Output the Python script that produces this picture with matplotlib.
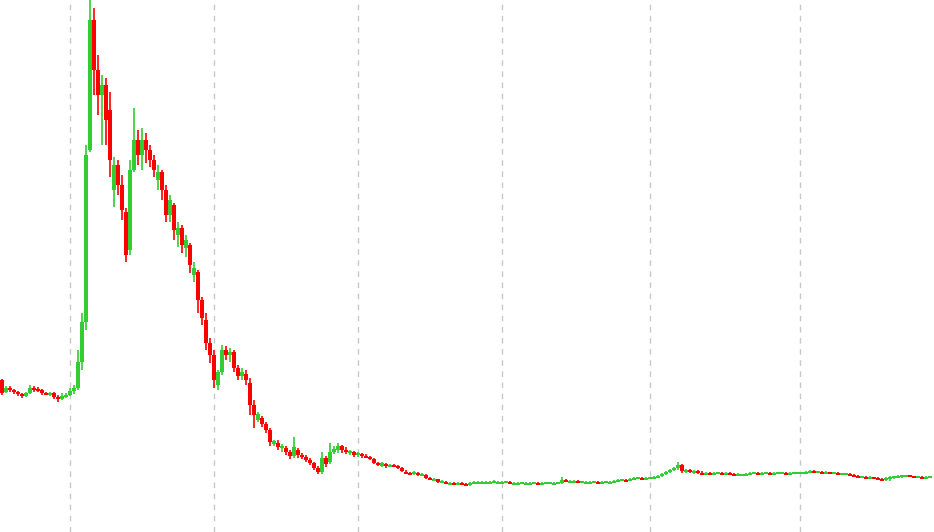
import matplotlib
matplotlib.use("Agg")
import matplotlib.pyplot as plt
import numpy as np

# Price data (arbitrary units), one candle per period
open_ = [152,140,144,142,140,138,136,139,144,143,142,139,137,139,135,133,136,137,141,144,
         170,210,382,512,462,437,447,422,342,367,347,320,282,362,392,377,392,382,372,352,
         360,342,317,327,297,304,284,287,257,260,232,212,189,177,147,160,182,177,180,164,
         156,158,149,127,112,114,108,102,88,89,84,84,80,76,82,77,75,72,69,64,
         60,74,70,80,82,86,82,79,80,77,78,76,75,73,69,66,68,66,67,66,
         64,60,59,58,59,57,57,54,52,53,50,50,48,49,48,49,48,47,49,49,
         49,49,49,50,49,49,50,50,48,48,49,48,48,49,49,48,49,49,48,49,
         49,52,50,50,51,50,49,49,50,50,49,50,49,49,51,52,52,51,53,54,
         54,53,54,54,55,56,58,60,62,64,67,61,62,60,61,59,58,59,58,59,
         59,58,59,58,57,57,57,58,59,59,58,59,59,58,59,59,59,58,59,59,
         59,59,60,61,60,60,59,60,59,59,58,58,58,57,56,55,55,54,55,54,
         53,52,54,55,55,56,56,57,56,55,55,54,55]
high_ = [153,146,146,143,141,139,140,147,146,145,143,140,140,140,137,139,139,144,147,182,
         219,387,552,524,477,457,454,440,375,372,357,324,372,424,402,404,399,387,377,367,
         362,347,337,329,310,307,297,289,270,262,235,219,194,182,162,187,186,184,182,167,
         164,162,154,132,120,116,110,104,92,92,88,86,82,95,84,79,77,74,70,66,
         80,76,89,86,89,87,85,82,81,80,79,78,76,74,70,70,69,68,68,67,
         65,62,60,61,60,59,58,55,54,53,52,51,50,50,50,50,49,50,51,51,
         51,51,51,52,51,51,51,51,50,50,50,50,50,50,50,50,50,50,50,50,
         55,53,52,52,52,51,51,51,51,51,51,51,51,52,53,53,53,54,55,55,
         55,55,55,56,57,59,61,63,65,70,68,63,63,62,62,61,60,60,60,60,
         60,60,60,59,59,58,59,60,60,60,60,60,60,60,60,60,60,60,60,60,
         60,61,62,62,61,61,61,60,60,60,59,59,59,58,57,56,56,56,55,55,
         54,55,56,56,57,57,57,57,56,56,56,56,56]
low_ = [137,139,140,138,136,134,135,138,140,140,137,137,136,133,130,132,134,136,138,142,
        162,202,380,437,417,387,387,355,325,337,312,270,277,360,367,362,369,365,355,342,
        332,310,310,292,285,279,275,259,250,219,207,182,169,144,142,157,172,170,160,152,
        152,147,117,104,110,105,99,86,86,82,80,77,73,74,74,73,70,67,62,58,
        58,65,68,78,79,79,78,77,75,75,74,74,72,68,66,65,64,65,65,63,
        60,58,57,57,56,56,53,52,51,49,49,48,48,48,47,47,46,46,48,49,
        49,49,49,49,49,49,49,48,48,47,48,48,48,48,48,48,48,48,48,48,
        48,50,49,49,49,49,49,49,49,49,49,49,49,49,50,51,51,51,52,53,
        53,52,53,53,54,55,57,59,61,62,59,59,59,58,58,57,57,57,57,58,
        58,58,57,56,56,56,57,58,58,58,58,58,58,58,58,58,58,58,58,58,
        58,58,59,59,59,59,59,58,58,58,57,57,56,55,54,54,54,54,54,53,
        52,51,51,53,54,54,55,55,55,55,54,54,54,54]
close_ = [139,144,142,140,138,136,139,144,143,142,139,138,139,135,133,136,137,141,144,170,
          210,377,512,462,437,447,412,372,367,347,322,277,362,392,377,392,382,372,362,360,
          342,317,332,302,304,287,292,267,264,232,214,189,177,152,160,182,177,180,164,156,
          160,152,127,117,118,108,102,90,91,85,86,80,76,85,77,75,72,69,64,60,
          74,68,80,83,86,82,80,81,77,79,76,75,73,69,67,69,66,67,66,64,
          61,59,58,60,57,58,54,53,53,50,51,49,49,48,49,48,47,49,50,50,
          49,50,50,51,49,50,50,49,48,49,49,48,49,49,48,49,49,49,49,49,
          52,51,50,51,50,50,49,50,50,49,50,50,49,51,52,52,51,53,54,54,
          53,54,54,55,56,58,60,62,64,67,61,62,60,61,59,58,59,58,59,59,
          58,59,58,57,58,57,58,59,59,58,59,59,58,59,59,59,58,59,59,59,
          59,60,61,60,60,59,60,59,59,58,58,58,57,56,55,55,54,55,54,53,
          52,54,55,55,56,56,57,56,55,55,54,55,55]

# Period indices where the dashed vertical grid lines fall
grid_at = [17.0, 53.0, 89.0, 125.0, 162.0, 199.5]

UP = "#32cd32"
DOWN = "#ff0000"

n = min(len(open_), len(high_), len(low_), len(close_))
o = np.array(open_[:n], float)
h = np.array(high_[:n], float)
l = np.array(low_[:n], float)
c = np.array(close_[:n], float)
x = np.arange(n)
up = c >= o
colors = np.where(up, UP, DOWN)

fig = plt.figure(figsize=(9.34, 5.32), dpi=100)
ax = fig.add_axes([0, 0, 1, 1])
for g in grid_at:
    ax.axvline(g, color="#c8c8c8", linestyle=(0, (4, 4)), linewidth=1, zorder=0)

ax.vlines(x, l, h, colors=colors, linewidth=1.2, zorder=2)
height = np.maximum(np.abs(c - o), 2.0)
bottom = np.minimum(o, c) - (height - np.abs(c - o)) / 2
ax.bar(x, height, bottom=bottom, width=0.85, color=colors, linewidth=0, zorder=3)

ax.set_xlim(-0.5, 233.0)
ax.set_ylim(0, 532)
ax.axis("off")
fig.savefig("out.png", dpi=100, facecolor="white")
